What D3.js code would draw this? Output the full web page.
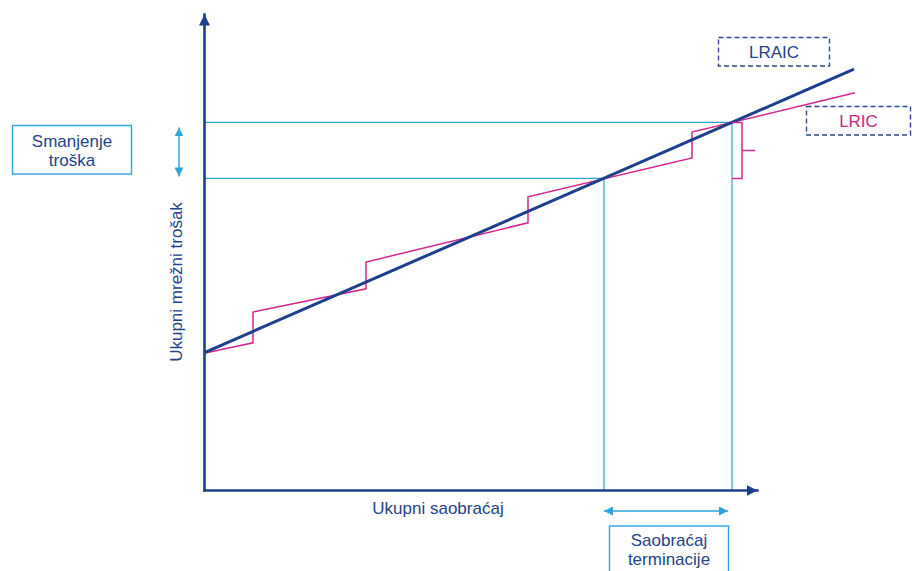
<!DOCTYPE html>
<html lang="hr">
<head>
<meta charset="utf-8">
<title>LRAIC i LRIC: ukupni mrežni trošak</title>
<script src="https://cdn.jsdelivr.net/npm/d3@7"></script>
<style>
  body { margin: 0; background: #fff; }
  text { font-family: "Liberation Sans", Arial, sans-serif; font-size: 17px; }
</style>
</head>
<body>
<script>

// traffic (x) and network cost (y), in chart units
var lraicX = [0, 130];
var lraicY = [34.3, 105.2];

// LRIC: stepwise cost curve (each step = new capacity increment)
var lricX = [0, 9.8, 9.8, 32.4, 32.4, 64.8, 64.8, 97.6, 97.6, 130.2];
var lricY = [34.2, 36.8, 44.5, 50.3, 57, 66.8, 73.3, 83, 89.5, 99.3];

// traffic without / with termination traffic and matching total cost
var guideX = [80, 105.6];
var guideY = [77.9, 91.9];

var axisMax = [110.6, 119];
var axisLabels = ["Ukupni saobraćaj", "Ukupni mrežni trošak"];
var boxLabels = [["Smanjenje", "troška"], ["Saobraćaj", "terminacije"]];
var seriesNames = ["LRAIC", "LRIC"];

var w = 912, h = 571;
var navy = "#1d3f8d", magenta = "#d3288d", cyan = "#2fa4dc", textCol = "#24438a";

var x = d3.scaleLinear().domain([0, axisMax[0]]).range([204, 757]);
var y = d3.scaleLinear().domain([0, axisMax[1]]).range([490, 14]);

var svg = d3.select("body").append("svg")
    .attr("width", w)
    .attr("height", h);

// arrow heads
var defs = svg.append("defs");
function arrow(id, col, size) {
  defs.append("marker")
      .attr("id", id)
      .attr("markerUnits", "userSpaceOnUse")
      .attr("viewBox", "0 0 10 10")
      .attr("refX", 10).attr("refY", 5)
      .attr("markerWidth", size).attr("markerHeight", size)
      .attr("orient", "auto-start-reverse")
    .append("path")
      .attr("d", "M0,0L10,5L0,10Z")
      .attr("fill", col);
}
arrow("axisArrow", navy, 11);
arrow("cyanArrow", cyan, 9);

// guide lines
var lines = svg.append("g").attr("stroke", cyan).attr("stroke-width", 1.2).attr("fill", "none");
guideX.forEach(function(gx, i) {
  lines.append("line")
      .attr("x1", x(0)).attr("x2", x(gx))
      .attr("y1", y(guideY[i])).attr("y2", y(guideY[i]));
  lines.append("line")
      .attr("x1", x(gx)).attr("x2", x(gx))
      .attr("y1", y(guideY[i])).attr("y2", y(0));
});

// axes
var xAxis = svg.append("g").attr("transform", "translate(0," + y(0) + ")")
    .call(d3.axisBottom(x).tickValues([]).tickSizeOuter(0));
var yAxis = svg.append("g").attr("transform", "translate(" + x(0) + ",0)")
    .call(d3.axisLeft(y).tickValues([]).tickSizeOuter(0));
[xAxis, yAxis].forEach(function(a) {
  a.select(".domain")
      .attr("stroke", navy)
      .attr("stroke-width", 2.6)
      .attr("stroke-linecap", "square")
      .attr("marker-end", "url(#axisArrow)");
});

// LRIC step curve
var lricPts = lricX.map(function(d, i) { return [d, lricY[i]]; });
svg.append("path")
    .datum(lricPts)
    .attr("fill", "none")
    .attr("stroke", magenta)
    .attr("stroke-width", 1.5)
    .attr("d", d3.line().x(function(d) { return x(d[0]); }).y(function(d) { return y(d[1]); }));

// LRAIC line
var lraicPts = lraicX.map(function(d, i) { return [d, lraicY[i]]; });
svg.append("path")
    .datum(lraicPts)
    .attr("fill", "none")
    .attr("stroke", navy)
    .attr("stroke-width", 3)
    .attr("d", d3.line().x(function(d) { return x(d[0]); }).y(function(d) { return y(d[1]); }));

// brace on the right of the termination step
var bx = x(guideX[1]), bTop = y(guideY[1]), bBot = y(guideY[0]), bMid = (bTop + bBot) / 2;
svg.append("path")
    .attr("fill", "none")
    .attr("stroke", magenta)
    .attr("stroke-width", 1.5)
    .attr("d", "M" + bx + "," + bTop + "H" + (bx + 10) + "V" + bBot + "H" + bx +
               "M" + (bx + 10) + "," + bMid + "H" + (bx + 23));

// double arrows
svg.append("line")
    .attr("x1", 179).attr("x2", 179)
    .attr("y1", y(guideY[1]) + 5).attr("y2", y(guideY[0]) - 2)
    .attr("stroke", cyan).attr("stroke-width", 1.5)
    .attr("marker-start", "url(#cyanArrow)")
    .attr("marker-end", "url(#cyanArrow)");
svg.append("line")
    .attr("x1", x(guideX[0])).attr("x2", x(guideX[1]) - 4)
    .attr("y1", 511).attr("y2", 511)
    .attr("stroke", cyan).attr("stroke-width", 1.5)
    .attr("marker-start", "url(#cyanArrow)")
    .attr("marker-end", "url(#cyanArrow)");

// axis titles
svg.append("text")
    .attr("x", 438).attr("y", 514)
    .attr("text-anchor", "middle")
    .attr("fill", textCol)
    .text(axisLabels[0]);
svg.append("text")
    .attr("transform", "translate(182,282) rotate(-90)")
    .attr("text-anchor", "middle")
    .attr("fill", textCol)
    .text(axisLabels[1]);

// text boxes
function box(bx0, by0, bw, bh, lines, ty, col, dash, textFill) {
  svg.append("rect")
      .attr("x", bx0).attr("y", by0).attr("width", bw).attr("height", bh)
      .attr("fill", "none")
      .attr("stroke", col)
      .attr("stroke-width", 1.4)
      .attr("stroke-dasharray", dash);
  var t = svg.append("text")
      .attr("text-anchor", "middle")
      .attr("fill", textFill);
  lines.forEach(function(s, i) {
    t.append("tspan").attr("x", bx0 + bw / 2).attr("y", ty + i * 19).text(s);
  });
}
box(12.5, 125.5, 119, 48.5, boxLabels[0], 146.5, cyan, null, textCol);
box(609.5, 526, 119, 60, boxLabels[1], 546, cyan, null, textCol);
box(718.5, 37.5, 111, 28.5, [seriesNames[0]], 57.5, "#2b4a88", "5,3", textCol);
box(806.5, 106.5, 104, 28.5, [seriesNames[1]], 126.5, "#2b4a88", "5,3", "#c8277f");

</script>
</body>
</html>
